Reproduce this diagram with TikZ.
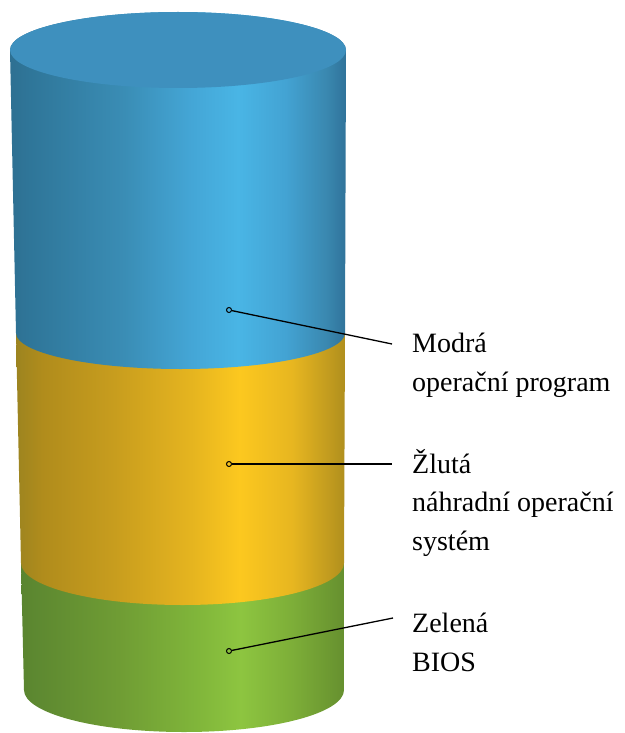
\documentclass[tikz,border=0pt]{standalone}
\usepackage{fontspec}
\setmainfont{Liberation Serif}

% side shadings, stops between 25bp and 75bp span the path width
\pgfdeclarehorizontalshading{blueside}{100bp}{%
  color(0bp)=(rgb,255:red,46;green,112;blue,146);
  color(25bp)=(rgb,255:red,46;green,112;blue,146);
  color(28bp)=(rgb,255:red,47;green,118;blue,153);
  color(42bp)=(rgb,255:red,58;green,141;blue,181);
  color(52bp)=(rgb,255:red,68;green,166;blue,214);
  color(59bp)=(rgb,255:red,73;green,181;blue,229);
  color(66bp)=(rgb,255:red,67;green,163;blue,211);
  color(72bp)=(rgb,255:red,58;green,136;blue,176);
  color(75bp)=(rgb,255:red,48;green,115;blue,154);
  color(100bp)=(rgb,255:red,48;green,115;blue,154)}
\pgfdeclarehorizontalshading{yellowside}{100bp}{%
  color(0bp)=(rgb,255:red,156;green,132;blue,32);
  color(25bp)=(rgb,255:red,156;green,132;blue,32);
  color(29bp)=(rgb,255:red,176;green,140;blue,28);
  color(40bp)=(rgb,255:red,200;green,157;blue,30);
  color(52bp)=(rgb,255:red,230;green,181;blue,31);
  color(59bp)=(rgb,255:red,252;green,200;blue,31);
  color(67bp)=(rgb,255:red,231;green,182;blue,32);
  color(75bp)=(rgb,255:red,176;green,143;blue,30);
  color(100bp)=(rgb,255:red,176;green,143;blue,30)}
\pgfdeclarehorizontalshading{greenside}{100bp}{%
  color(0bp)=(rgb,255:red,90;green,133;blue,48);
  color(25bp)=(rgb,255:red,90;green,133;blue,48);
  color(40bp)=(rgb,255:red,111;green,156;blue,52);
  color(52bp)=(rgb,255:red,128;green,181;blue,58);
  color(59bp)=(rgb,255:red,141;green,197;blue,64);
  color(67bp)=(rgb,255:red,125;green,174;blue,56);
  color(75bp)=(rgb,255:red,102;green,144;blue,47);
  color(100bp)=(rgb,255:red,102;green,144;blue,47)}
\definecolor{topface}{RGB}{62,144,190}

\begin{document}
\begin{tikzpicture}[x=1pt, y=-1pt,
    probe/.style={circle, draw, line width=1pt, inner sep=0pt, minimum size=5pt},
    leader/.style={line width=1.3pt},
    % anchored at the baseline of the last line
    labeltext/.style={anchor=base west, align=left, inner sep=0pt,
      font=\fontsize{28}{38.5}\selectfont}]

  \useasboundingbox (0,0) rectangle (624,733);

  % levels of the cylinder: centre height, left/right edge, half height of the ellipse
  \def\yA{50}  \def\lA{10} \def\rA{346} \def\hA{38}
  \def\yB{333} \def\lB{16} \def\rB{345} \def\hB{36}
  \def\yC{563} \def\lC{21} \def\rC{344} \def\hC{42}
  \def\yD{690} \def\lD{24} \def\rD{344} \def\hD{42}

  % green band (bottom)
  \shade[shading=greenside] (\lC,\yC) -- (\lD,\yD)
    arc[start angle=180, end angle=0, x radius={(\rD-\lD)/2}, y radius=\hD]
    -- (\rC,\yC)
    arc[start angle=0, end angle=-180, x radius={(\rC-\lC)/2}, y radius=\hC] -- cycle;

  % yellow band
  \shade[shading=yellowside] (\lB,\yB) -- (\lC,\yC)
    arc[start angle=180, end angle=0, x radius={(\rC-\lC)/2}, y radius=\hC]
    -- (\rB,\yB)
    arc[start angle=0, end angle=-180, x radius={(\rB-\lB)/2}, y radius=\hB] -- cycle;

  % blue band
  \shade[shading=blueside] (\lA,\yA) -- (\lB,\yB)
    arc[start angle=180, end angle=0, x radius={(\rB-\lB)/2}, y radius=\hB]
    -- (\rA,\yA)
    arc[start angle=0, end angle=-180, x radius={(\rA-\lA)/2}, y radius=\hA] -- cycle;

  % lid
  \fill[topface] ({(\lA+\rA)/2},\yA) ellipse[x radius={(\rA-\lA)/2}, y radius=\hA];

  % leaders and labels
  \node[probe] (blueprobe) at (229,310) {};
  \coordinate (blueend) at (392,344);
  \draw[leader] (blueprobe) -- (blueend);
  \node[labeltext] (bluetext) at (412,391) {Modrá\\operační program};

  \node[probe] (yellowprobe) at (229,464) {};
  \coordinate (yellowend) at (392,464);
  \draw[leader] (yellowprobe) -- (yellowend);
  \node[labeltext] (yellowtext) at (412,550) {Žlutá\\náhradní operační\\systém};

  \node[probe] (greenprobe) at (229,651) {};
  \coordinate (greenend) at (393,618);
  \draw[leader] (greenprobe) -- (greenend);
  \node[labeltext] (greentext) at (412,671) {Zelená\\BIOS};

\end{tikzpicture}
\end{document}
